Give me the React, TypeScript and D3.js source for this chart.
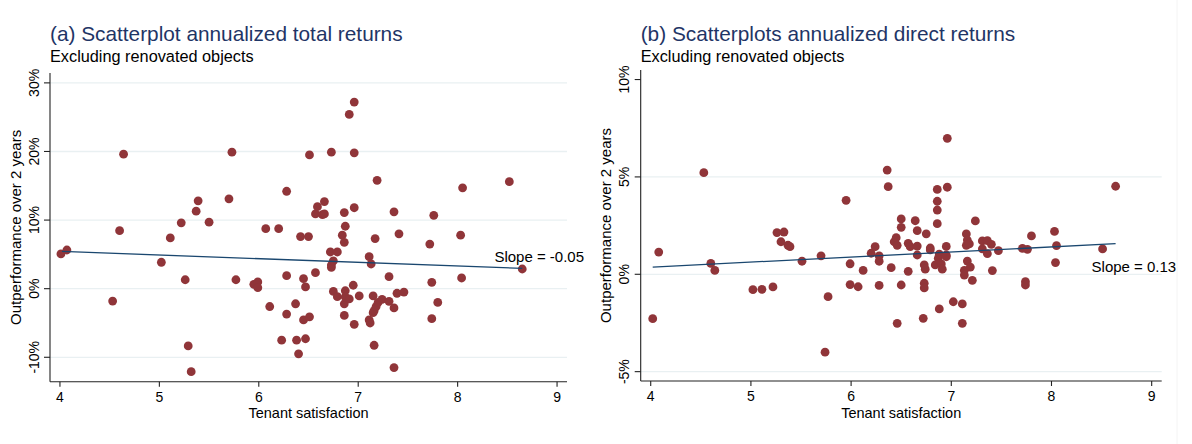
import React from "react";
import * as d3 from "d3";

// Panel (a): tenant satisfaction vs. outperformance of annualized total returns (%)
const satTotal = [4.01, 4.07, 4.53, 4.6, 4.64, 5.02, 5.11, 5.22, 5.26, 5.29, 5.32, 5.37, 5.39, 5.5, 5.7, 5.73, 5.77, 5.95, 5.99, 5.99, 6.07, 6.11, 6.2, 6.23, 6.28, 6.28, 6.28, 6.37, 6.38, 6.4, 6.42, 6.45, 6.47, 6.45, 6.47, 6.5, 6.51, 6.51, 6.57, 6.57, 6.59, 6.64, 6.66, 6.66, 6.72, 6.73, 6.73, 6.73, 6.75, 6.75, 6.79, 6.79, 6.84, 6.86, 6.86, 6.86, 6.86, 6.87, 6.87, 6.87, 6.91, 6.91, 6.95, 6.96, 6.96, 6.96, 6.96, 7.01, 7.11, 7.11, 7.12, 7.13, 7.15, 7.15, 7.16, 7.16, 7.17, 7.18, 7.19, 7.2, 7.24, 7.31, 7.31, 7.36, 7.36, 7.36, 7.39, 7.41, 7.46, 7.72, 7.74, 7.74, 7.76, 7.8, 8.03, 8.04, 8.05, 8.52, 8.65];
const outTotal = [5.06, 5.64, -1.8, 8.45, 19.6, 3.85, 7.4, 9.6, 1.3, -8.35, -12.1, 11.3, 12.8, 9.7, 13.1, 19.9, 1.3, 0.64, 0.98, 0.15, 8.75, -2.6, 8.75, -7.5, 14.2, 1.9, -3.7, -2.2, -7.5, -9.5, 7.6, 1.46, 0.25, -4.56, -7.3, 7.6, -4.1, 19.5, 2.33, 10.9, 11.95, 10.8, 10.9, 12.7, 5.35, 19.9, 3.45, 3.1, 4.04, -0.4, 5.35, -1.17, 7.8, 11.1, 6.76, -2.2, -3.9, 9.1, -0.3, -1.2, -1.5, 25.4, 0.5, 27.2, 19.8, 11.8, -5.2, -1.06, 4.66, -4.56, -5.0, 3.6, -1.06, -3.5, -3.2, -8.25, 7.3, -2.6, 15.8, -2.0, -1.55, 1.75, -1.84, 11.2, -2.8, -11.5, -0.67, 8.0, -0.5, 6.5, 0.93, -4.37, 10.7, -2.0, 7.8, 1.56, 14.7, 15.6, 2.87];

// Panel (b): tenant satisfaction vs. outperformance of annualized direct returns (%)
const satDirect = [4.02, 4.08, 4.53, 4.6, 4.64, 5.02, 5.11, 5.22, 5.26, 5.33, 5.3, 5.37, 5.39, 5.51, 5.7, 5.74, 5.77, 5.95, 5.99, 5.99, 6.07, 6.12, 6.2, 6.24, 6.28, 6.28, 6.28, 6.36, 6.37, 6.4, 6.43, 6.45, 6.46, 6.46, 6.5, 6.5, 6.5, 6.57, 6.57, 6.59, 6.64, 6.66, 6.66, 6.66, 6.72, 6.73, 6.74, 6.73, 6.73, 6.75, 6.79, 6.79, 6.84, 6.86, 6.86, 6.86, 6.86, 6.87, 6.88, 6.88, 6.9, 6.91, 6.95, 6.95, 6.95, 6.96, 6.96, 7.02, 7.11, 7.11, 7.13, 7.13, 7.15, 7.15, 7.16, 7.16, 7.18, 7.19, 7.21, 7.24, 7.31, 7.31, 7.36, 7.36, 7.4, 7.41, 7.47, 7.71, 7.74, 7.74, 7.76, 7.8, 8.03, 8.04, 8.05, 8.51, 8.64];
const outDirect = [-2.28, 1.14, 5.22, 0.56, 0.2, -0.79, -0.77, -0.65, 2.14, 2.17, 1.67, 1.49, 1.42, 0.67, 0.95, -4.0, -1.15, 3.8, 0.54, -0.53, -0.64, 0.2, 1.08, 1.42, 0.95, 0.67, -0.57, 5.35, 4.5, 0.34, 1.67, 1.88, 1.49, -2.52, 2.84, 2.41, -0.55, 1.59, 0.15, 1.42, 2.75, 2.24, 1.45, 0.99, -2.26, 0.48, 0.26, -0.46, -0.7, 2.08, 1.35, 1.25, 0.48, 4.36, 3.75, 3.3, 2.6, 0.82, 1.04, -1.78, 0.53, 0.26, 1.43, 0.99, 0.9, 6.98, 4.47, -1.41, -1.52, -2.52, 0.2, -0.04, 2.07, 1.49, 1.76, 0.68, 1.56, 0.37, -0.31, 2.74, 1.71, 1.3, 1.73, 1.06, 1.54, 0.19, 1.21, 1.33, -0.38, -0.55, 1.28, 1.97, 2.2, 0.6, 1.47, 1.3, 4.52];

// Fitted lines (endpoints in data units)
const fitTotalX = [4.02, 8.65];
const fitTotalY = [5.43, 2.96];
const fitDirectX = [4.02, 8.64];
const fitDirectY = [0.37, 1.57];

const xTicks = [4, 5, 6, 7, 8, 9];
const yTicksTotal = [-10, 0, 10, 20, 30];
const yTicksDirect = [-5, 0, 5, 10];
const gridTotal = [-10, 0, 10, 20, 30];
const gridDirect = [-5, 0, 5];

const FONT = "'Liberation Sans', Arial, Helvetica, sans-serif";
const DOT = "#903539";
const LINE = "#1a476f";
const GRID = "#e9f0f2";
const TITLE = "#1f3566";

type PanelProps = {
  x0: number;
  x1: number;
  yTop: number;
  yBottom: number;
  yDomain: [number, number];
  xs: number[];
  ys: number[];
  fitX: number[];
  fitY: number[];
  yTicks: number[];
  grid: number[];
  title: string;
  subtitle: string;
  slopeText: string;
  slopeAt: [number, number];
};

function Panel(p: PanelProps) {
  const x = d3.scaleLinear().domain([3.9, 9.1]).range([p.x0, p.x1]);
  const y = d3.scaleLinear().domain(p.yDomain).range([p.yBottom, p.yTop]);
  const pts = d3.zip(p.xs, p.ys);
  const fit = d3
    .line<[number, number]>()
    .x((d) => x(d[0]))
    .y((d) => y(d[1]))(d3.zip(p.fitX, p.fitY) as [number, number][]);
  const yMid = (p.yTop + p.yBottom) / 2;
  const xMid = (p.x0 + p.x1) / 2;
  return (
    <g fontFamily={FONT}>
      <text x={p.x0} y={41} fontSize={20.8} fill={TITLE}>
        {p.title}
      </text>
      <text x={p.x0} y={62} fontSize={16.3} fill="#000">
        {p.subtitle}
      </text>
      {p.grid.map((g) => (
        <line key={"g" + g} x1={p.x0} x2={p.x1} y1={y(g)} y2={y(g)} stroke={GRID} strokeWidth={1.3} />
      ))}
      {/* axes */}
      <line x1={p.x0} x2={p.x0} y1={p.yTop} y2={p.yBottom} stroke="#222" strokeWidth={1.1} />
      <line x1={p.x0} x2={p.x1} y1={p.yBottom} y2={p.yBottom} stroke="#222" strokeWidth={1.1} />
      {p.yTicks.map((t) => (
        <g key={"yt" + t}>
          <line x1={p.x0 - 6} x2={p.x0} y1={y(t)} y2={y(t)} stroke="#222" strokeWidth={1.1} />
          <text
            transform={`translate(${p.x0 - 11.5},${y(t)}) rotate(-90)`}
            textAnchor="middle"
            fontSize={14}
            fill="#000"
          >
            {t + "%"}
          </text>
        </g>
      ))}
      {xTicks.map((t) => (
        <g key={"xt" + t}>
          <line x1={x(t)} x2={x(t)} y1={p.yBottom} y2={p.yBottom + 5} stroke="#222" strokeWidth={1.1} />
          <text x={x(t)} y={p.yBottom + 20} textAnchor="middle" fontSize={14} fill="#000">
            {t}
          </text>
        </g>
      ))}
      <text x={xMid} y={418} textAnchor="middle" fontSize={14.5} fill="#000">
        Tenant satisfaction
      </text>
      <text
        transform={`translate(${p.x0 - 29.5},${yMid}) rotate(-90)`}
        textAnchor="middle"
        fontSize={15}
        fill="#000"
      >
        Outperformance over 2 years
      </text>
      {pts.map((d, i) => (
        <circle key={i} cx={x(d[0])} cy={y(d[1])} r={4.4} fill={DOT} />
      ))}
      <path d={fit || ""} fill="none" stroke={LINE} strokeWidth={1.3} />
      <text x={x(p.slopeAt[0])} y={y(p.slopeAt[1])} fontSize={15} fill="#000">
        {p.slopeText}
      </text>
    </g>
  );
}

export default function App() {
  return (
    <div style={{ position: "absolute", left: 0, top: 0 }}>
      <svg width={1192} height={444} style={{ display: "block", background: "#fff" }}>
        <rect width={1192} height={444} fill="#fff" />
        <Panel
          x0={50}
          x1={567}
          yTop={73}
          yBottom={381.7}
          yDomain={[-13.56, 31.44]}
          xs={satTotal}
          ys={outTotal}
          fitX={fitTotalX}
          fitY={fitTotalY}
          yTicks={yTicksTotal}
          grid={gridTotal}
          title="(a) Scatterplot annualized total returns"
          subtitle="Excluding renovated objects"
          slopeText="Slope = -0.05"
          slopeAt={[8.37, 3.9]}
        />
        <Panel
          x0={640.7}
          x1={1161.7}
          yTop={70}
          yBottom={381}
          yDomain={[-5.48, 10.49]}
          xs={satDirect}
          ys={outDirect}
          fitX={fitDirectX}
          fitY={fitDirectY}
          yTicks={yTicksDirect}
          grid={gridDirect}
          title="(b) Scatterplots annualized direct returns"
          subtitle="Excluding renovated objects"
          slopeText="Slope = 0.13"
          slopeAt={[8.4, 0.13]}
        />
        <line x1={1177} x2={1177} y1={0} y2={444} stroke="#f4f4f4" strokeWidth={1} />
      </svg>
    </div>
  );
}
